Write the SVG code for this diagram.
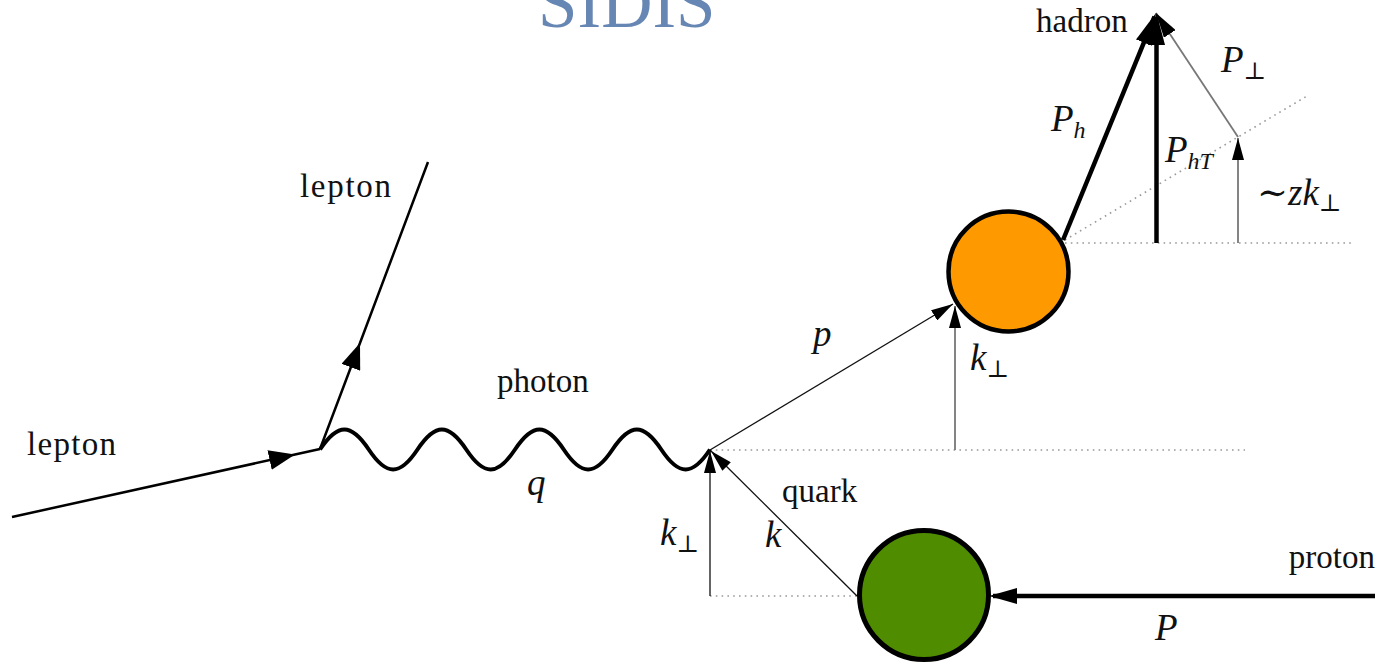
<svg xmlns="http://www.w3.org/2000/svg" width="1378" height="665" viewBox="0 0 1378 665">
<style>
text{font-family:"Liberation Serif","DejaVu Serif",serif;fill:#111}
.lbl{font-size:33px}
.m{font-size:37px;font-style:italic}
.sub{font-size:24px}
.title{font-size:71px;fill:#6686b4}
.dot{stroke:#999;stroke-width:1.6;stroke-dasharray:1.6 4.2;fill:none}
.lep{stroke:#000;stroke-width:2.5;fill:none}
.wave{stroke:#000;stroke-width:4;fill:none}
.thin{stroke:#111;stroke-width:1.3;fill:none}
.gray{stroke:#777;stroke-width:1.8;fill:none}
.thick{stroke:#000;stroke-width:4.5;fill:none}
</style>
<defs>
<marker id="a-lep" markerUnits="userSpaceOnUse" viewBox="0 0 26 20" refX="26" refY="10" markerWidth="26" markerHeight="20" orient="auto"><path d="M0,0L26,10L0,20z" fill="#000"/></marker>
<marker id="a-thin" markerUnits="userSpaceOnUse" viewBox="0 0 22 12" refX="22" refY="6" markerWidth="22" markerHeight="12" orient="auto"><path d="M0,0L22,6L0,12z" fill="#000"/></marker>
<marker id="a-had" markerUnits="userSpaceOnUse" viewBox="0 0 32 17" refX="28" refY="8.5" markerWidth="32" markerHeight="17" orient="auto"><path d="M0,0L32,8.5L0,17z" fill="#000"/></marker>
<marker id="a-perp" markerUnits="userSpaceOnUse" viewBox="0 0 25 14" refX="25" refY="7" markerWidth="25" markerHeight="14" orient="auto"><path d="M0,0L25,7L0,14z" fill="#000"/></marker>
<marker id="a-prot" markerUnits="userSpaceOnUse" viewBox="0 0 28 16" refX="24" refY="8" markerWidth="28" markerHeight="16" orient="auto"><path d="M0,0L28,8L0,16z" fill="#000"/></marker>
</defs>

<text class="title" x="538" y="27">SIDIS</text>

<g id="connectors">
<path class="dot" d="M710,450H1245"/>
<path class="dot" d="M710,596H857"/>
<path class="dot" d="M1065,243H1355"/>
<path class="dot" d="M1065,240L1307,96"/>
<path class="lep" d="M12,517L295,454.5L320,449" marker-mid="url(#a-lep)"/>
<path class="lep" d="M320,449L360,343L428,162" marker-mid="url(#a-lep)"/>
<path class="wave" d="M320,449.5c17.75,-26.7 31,-26.7 48.75,0c17.75,26.7 31,26.7 48.75,0c17.75,-26.7 31,-26.7 48.75,0c17.75,26.7 31,26.7 48.75,0c17.75,-26.7 31,-26.7 48.75,0c17.75,26.7 31,26.7 48.75,0c17.75,-26.7 31,-26.7 48.75,0c17.75,26.7 31,26.7 48.75,0"/>
<path class="thin" d="M710,450L953,304" marker-end="url(#a-thin)"/>
<path class="thin" d="M857,596L711,451" marker-end="url(#a-thin)"/>
<path class="thin" d="M710,596V451" marker-end="url(#a-thin)"/>
<path class="gray" d="M955,450V306" marker-end="url(#a-thin)"/>
<path class="gray" d="M1238,243V138" marker-end="url(#a-thin)"/>
<path class="gray" d="M1238,137L1156,13" marker-end="url(#a-perp)"/>
<path class="thick" d="M1063,240L1154.5,16.7" marker-end="url(#a-had)"/>
<path class="thick" d="M1156.5,243V17" marker-end="url(#a-had)"/>
<path class="thick" d="M1375,596H993" marker-end="url(#a-prot)"/>
</g>

<g id="fragmentation">
<circle cx="1008.5" cy="271.5" r="60" fill="#ff9900" stroke="#000" stroke-width="4.5"/>
</g>
<g id="proton-blob">
<circle cx="924" cy="595" r="64.5" fill="#4f8c00" stroke="#000" stroke-width="5"/>
</g>

<g id="labels">
<text class="lbl" x="27" y="455" textLength="89">lepton</text>
<text class="lbl" x="300" y="197" textLength="91">lepton</text>
<text class="lbl" x="497" y="392">photon</text>
<text class="m" x="527" y="495">q</text>
<text class="m" x="813" y="346">p</text>
<text class="m" x="970" y="370">k<tspan class="sub" font-style="normal" dy="7">⊥</tspan></text>
<text class="lbl" x="782" y="502">quark</text>
<text class="m" x="765" y="547">k</text>
<text class="m" x="660" y="545">k<tspan class="sub" font-style="normal" dy="7">⊥</tspan></text>
<text class="lbl" x="1375" y="568" text-anchor="end">proton</text>
<text class="m" x="1155" y="640">P</text>
<text class="lbl" x="1036" y="32">hadron</text>
<text class="m" x="1051" y="131">P<tspan class="sub" dy="7">h</tspan></text>
<text class="m" x="1165" y="162">P<tspan class="sub" dy="7">hT</tspan></text>
<text class="m" x="1221" y="72">P<tspan class="sub" font-style="normal" dy="7">⊥</tspan></text>
<text class="m" x="1257" y="205"><tspan font-style="normal">∼</tspan>zk<tspan class="sub" font-style="normal" dy="6">⊥</tspan></text>
</g>
</svg>
